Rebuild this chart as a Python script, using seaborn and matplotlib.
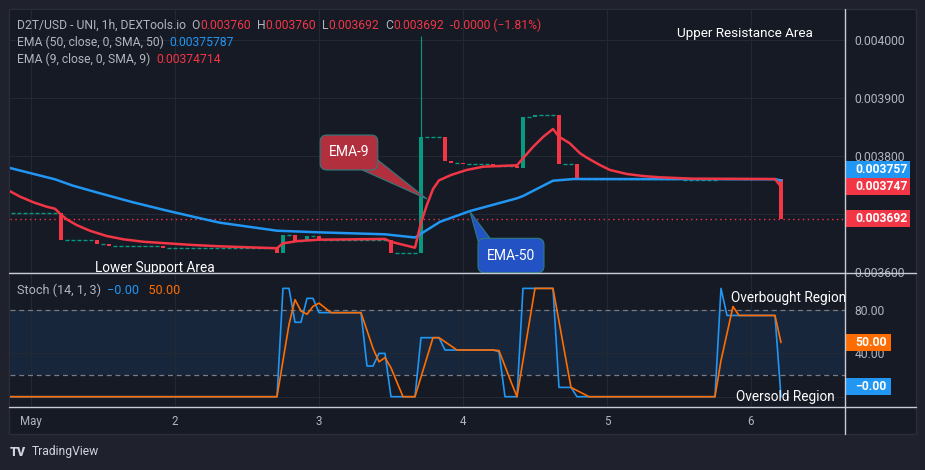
import matplotlib
matplotlib.use("Agg")
import matplotlib.pyplot as plt
import numpy as np
import pandas as pd
import seaborn as sns
from matplotlib.patches import Rectangle, FancyBboxPatch, Polygon
from matplotlib.lines import Line2D
from matplotlib.offsetbox import TextArea, HPacker, AnnotationBbox

# ---------------- data (x = hours counted from May 1, 00:00) ----------------
first_hour = -3
last_hour = 125
start_price = 0.003701
# candles where the price moved; every other hour is a flat (no trade) candle
move_hours = [5, 11, 13, 22, 41, 42, 44, 46, 48, 60, 65, 69, 70, 72, 77, 81,
              82, 84, 88, 91, 108, 115, 125]
move_close = [0.003656, 0.003648, 0.003645, 0.003642, 0.003633, 0.003664,
              0.003654, 0.003662, 0.003656, 0.003633, 0.003832, 0.003791,
              0.003788, 0.003787, 0.003783, 0.003780, 0.003867, 0.003871,
              0.003787, 0.003760, 0.003758, 0.003760, 0.003692]
wick_hour = 65
wick_high = 0.004007
last_open = 0.003760
last_close = 0.003692

ema50_h = [-4, -3.3, 4, 7, 11.5, 17, 22.7, 28.2, 31.5, 41, 48, 59, 64, 65,
           68.2, 73.2, 81, 82, 87, 90.4, 124, 125]
ema50_p = [0.003781, 0.0037788, 0.0037598, 0.0037488, 0.0037357, 0.0037202,
           0.0037057, 0.0036926, 0.003685, 0.0036712, 0.0036684, 0.003665,
           0.0036595, 0.003666, 0.0036867, 0.0037052, 0.0037271, 0.003731,
           0.0037574, 0.0037603, 0.0037600, 0.00375787]

ema9_h = [-4, -1.8, 0.4, 2.6, 4, 5, 6, 7.6, 9.8, 12.6, 15.4, 18.7, 22.6, 27,
          31.5, 41, 42, 44.5, 48, 59, 60, 64, 65, 66, 67, 68, 70, 72.6, 75.4,
          81, 82, 83.7, 85.4, 87, 88, 89.8, 91.5, 92.6, 94.8, 96.5, 99.3, 102,
          104.8, 110.3, 124, 125]
ema9_p = [0.003742, 0.0037298, 0.0037202, 0.0037126, 0.0037091, 0.003699,
          0.0036905, 0.003681, 0.0036712, 0.0036621, 0.0036564, 0.0036522,
          0.0036495, 0.0036466, 0.0036443, 0.003641, 0.0036495, 0.0036534,
          0.0036557, 0.003657, 0.0036521, 0.0036419, 0.003685, 0.003716,
          0.003743, 0.003758, 0.0037672, 0.0037759, 0.0037816, 0.003784,
          0.003796, 0.003816, 0.0038333, 0.0038466, 0.0038333, 0.0038219,
          0.0038047, 0.0037974, 0.0037845, 0.0037759, 0.003769, 0.0037655,
          0.0037633, 0.0037609, 0.0037603, 0.00374714]

stoch_k_h = [-4, 41, 42, 43, 44, 45, 46, 47, 48, 55, 56, 57, 58, 59, 60, 64,
             65, 68, 69, 77, 78, 79, 81, 82, 87, 88, 90, 91, 114, 115, 116,
             124, 125]
stoch_k = [0, 0, 100, 100, 68.7, 68.7, 90.8, 90.8, 77.6, 77.6, 28.3, 28.3,
           40, 40, 0, 0, 54.5, 54.5, 43.1, 43.1, 41.5, 0, 0, 100, 100, 8.6,
           8.6, 0, 0, 100, 75, 75, 0]
stoch_d_h = [-4, 41, 42, 43, 44, 45, 46, 47, 48, 49, 50, 55, 56, 57, 58, 59,
             60, 61, 62, 64, 65, 66, 67, 68, 69, 70, 71, 77, 78, 79, 80, 81,
             82, 83, 84, 87, 88, 89, 90, 91, 92, 93, 114, 115, 116, 117, 118,
             124, 125]
stoch_d = [0, 0, 33.3, 66.7, 89.6, 79.1, 76.1, 83.4, 86.4, 82.0, 77.6, 77.6,
           61.2, 44.7, 32.2, 36.1, 26.7, 13.3, 0, 0, 18.2, 36.3, 54.5, 54.5,
           50.7, 46.9, 43.1, 43.1, 42.6, 28.2, 13.8, 0, 33.3, 66.7, 100, 100,
           69.5, 39.1, 8.6, 5.7, 2.9, 0, 0, 33.3, 58.3, 83.3, 75, 75, 50]

day_hours = [0, 24, 48, 72, 96, 120]
day_labels = ["May", "2", "3", "4", "5", "6"]
price_ticks = [0.0036, 0.0037, 0.0038, 0.0039, 0.0040]
stoch_ticks = [0, 40, 80]
stoch_tick_labels = ["", "40.00", "80.00"]

# ---------------- colours ----------------
OUTER = "#1f222c"
PANEL = "#161a25"
GRID = "#242833"
TXT = "#b2b5be"
GREEN = "#089981"
RED = "#f23645"
BLUE = "#2196f3"
ORANGE = "#ff6d00"
SEP = "#c9ccd4"
FS = 8.7

sns.set_style("dark", {"axes.facecolor": PANEL, "figure.facecolor": OUTER,
                       "grid.color": GRID, "axes.edgecolor": PANEL})
plt.rcParams["font.family"] = ["Roboto", "DejaVu Sans"]

W, H = 925, 470
fig = plt.figure(figsize=(W / 100, H / 100), dpi=100)
fig.patch.set_facecolor(OUTER)
fig.add_artist(Rectangle((9 / W, 1 - 434 / H), 907 / W, 425 / H,
                         transform=fig.transFigure, fc=PANEL, ec="#2a2e39", lw=1, zorder=0))

ax = fig.add_axes([10 / W, 1 - 273 / H, 835 / W, 263 / H])
ax2 = fig.add_axes([10 / W, 1 - 407 / H, 835 / W, 134 / H], sharex=ax)

# ---------------- candles ----------------
close_at = dict(zip(move_hours, move_close))
rows = []
price = start_price
for h in range(first_hour, last_hour + 1):
    c = close_at.get(h, price)
    rows.append((h, price, c))
    price = c
candles = pd.DataFrame(rows, columns=["hour", "open", "close"])
up = candles["close"] > candles["open"]
down = candles["close"] < candles["open"]
flat = ~(up | down)
bw = 0.72
for mask, col in ((up, GREEN), (down, RED)):
    d = candles[mask]
    ax.bar(d["hour"], d["close"] - d["open"], bottom=d["open"], width=bw,
           color=col, lw=0, zorder=3)
d = candles[flat]
ax.hlines(d["open"], d["hour"] - bw / 2, d["hour"] + bw / 2, color=GREEN, lw=1, zorder=3)
wick_top = candles.loc[candles["hour"] == wick_hour, "close"].iloc[0]
ax.vlines(wick_hour, wick_top, wick_high, color=GREEN, lw=0.8, zorder=3)

ax.axhline(last_close, color=RED, lw=1, ls=(0, (1, 2.5)), zorder=2)

# ---------------- EMA lines ----------------
sns.lineplot(x=ema50_h, y=ema50_p, ax=ax, color=BLUE, linewidth=1.8,
             estimator=None, sort=False, zorder=4)
sns.lineplot(x=ema9_h, y=ema9_p, ax=ax, color=RED, linewidth=1.8,
             estimator=None, sort=False, zorder=4)

ax.set_xlim(-3.5, 135.67)
ax.set_ylim(0.0035983, 0.0040517)
ax.set_xticks(day_hours)
ax.set_yticks(price_ticks)
# the 0.003700 label sits under the price badges, as on the source chart
ax.set_yticklabels(["" if abs(p - 0.0037) < 1e-9 else f"{p:.6f}" for p in price_ticks])
ax.yaxis.tick_right()
ax.tick_params(axis="x", labelbottom=False, length=0)
ax.tick_params(axis="y", length=0, colors=TXT, labelsize=FS, pad=7)
ax.grid(True, color=GRID, lw=0.8)
ax.set_axisbelow(True)

# ---------------- stochastic ----------------
ax2.axhspan(20, 80, color="#17263a", lw=0, zorder=0.5)
for lvl in (80, 20):
    ax2.axhline(lvl, color="#787b86", lw=0.9, ls=(0, (4, 3)), zorder=1)
sns.lineplot(x=stoch_k_h, y=stoch_k, ax=ax2, color=BLUE, linewidth=1.2,
             estimator=None, sort=False, zorder=4)
sns.lineplot(x=stoch_d_h, y=stoch_d, ax=ax2, color=ORANGE, linewidth=1.2,
             estimator=None, sort=False, zorder=4)
ax2.set_ylim(-9.5, 114.2)
ax2.set_xticks(day_hours)
ax2.set_xticklabels(day_labels)
ax2.set_yticks(stoch_ticks)
ax2.set_yticklabels(stoch_tick_labels)
ax2.yaxis.tick_right()
ax2.tick_params(axis="y", length=0, colors=TXT, labelsize=FS, pad=7)
ax2.tick_params(axis="x", length=0, colors=TXT, labelsize=8.3, pad=6)
ax2.grid(True, color=GRID, lw=0.8)
ax2.set_axisbelow(True)
for a in (ax, ax2):
    for s in a.spines.values():
        s.set_visible(False)
    a.set_xlabel("")
    a.set_ylabel("")

# ---------------- separators ----------------
for yy in (273, 407):
    fig.add_artist(Line2D([9 / W, 916 / W], [1 - yy / H] * 2, transform=fig.transFigure,
                          color=SEP, lw=1))
fig.add_artist(Line2D([845 / W] * 2, [1 - 9 / H, 1 - 434 / H], transform=fig.transFigure,
                      color=SEP, lw=1))


# ---------------- price badges ----------------
def badge(a, yc, text, color, width, height):
    tr = a.get_yaxis_transform()
    a.add_patch(Rectangle((1.0, yc - height / 2), width, height, transform=tr,
                          fc=color, ec="none", clip_on=False, zorder=6))
    a.text(1.012, yc, text, transform=tr, color="white", fontsize=FS,
           fontweight="bold", va="center", ha="left", clip_on=False, zorder=7)


bh = 2.9e-5
badge(ax, ema9_p[-1], f"{ema9_p[-1]:.6f}", RED, 0.0778, bh)
badge(ax, ema9_p[-1] + bh, f"{int(ema50_p[-1] * 1e6) / 1e6:.6f}", BLUE, 0.0778, bh)
badge(ax, last_close, f"{last_close:.6f}", RED, 0.0778, bh)
badge(ax2, stoch_d[-1], f"{stoch_d[-1]:.2f}", ORANGE, 0.0551, 15.5)
badge(ax2, 9.6, "\u22120.00", BLUE, 0.0551, 15.5)


# ---------------- legends (coloured text rows) ----------------
def text_row(parts, x, y, size=FS):
    boxes = [TextArea(t, textprops=dict(color=c, size=size)) for t, c in parts]
    pack = HPacker(children=boxes, align="baseline", pad=0, sep=0)
    fig.add_artist(AnnotationBbox(pack, (x, H - y), xycoords="figure pixels",
                                  box_alignment=(0, 0.5), frameon=False, pad=0))


pct = (last_close - last_open) / last_open * 100
text_row([("D2T/USD - UNI, 1h, DEXTools.io  O", TXT), (f"{last_open:.6f}", RED),
          ("  H", TXT), (f"{last_open:.6f}", RED), ("  L", TXT), (f"{last_close:.6f}", RED),
          ("  C", TXT), (f"{last_close:.6f}", RED),
          (f"  -0.0000 (\u2212{abs(pct):.2f}%)", RED)], 17, 25)
text_row([("EMA (50, close, 0, SMA, 50)  ", TXT), (f"{ema50_p[-1]:.8f}", BLUE)], 17, 42)
text_row([("EMA (9, close, 0, SMA, 9)  ", TXT), (f"{ema9_p[-1]:.8f}", RED)], 17, 59)
text_row([("Stoch (14, 1, 3)  ", TXT), ("\u22120.00", BLUE), ("   50.00", ORANGE)], 17, 290,
         size=9.1)

# ---------------- drawings ----------------
ax.text(119, 0.004012, "Upper Resistance Area", color="white", fontsize=9.7,
        ha="center", va="center", zorder=8)
ax.text(20.7, 0.0036069, "Lower Support Area", color="white", fontsize=9.8,
        ha="center", va="center", zorder=8)
ax2.text(126.2, 91, "Overbought Region", color="white", fontsize=9.8,
         ha="center", va="center", zorder=8, clip_on=False)
ax2.text(125.7, -0.3, "Oversold Region", color="white", fontsize=9.8,
         ha="center", va="center", zorder=8, clip_on=False)

aspect = 6 / 580000
callouts = [
    # label, box (x0, y0, w, h), pointer polygon, fill
    ("EMA-9", (48.2, 0.0037759, 9.6, 0.0000603),
     [(57.8, 0.0037931), (66.0, 0.0037259), (55.2, 0.0037759)], "#b22f3d"),
    ("EMA-50", (74.5, 0.0035988, 11.0, 0.0000593),
     [(74.7, 0.0036466), (73.17, 0.0037040), (76.5, 0.0036581)], "#2352c4"),
]
for label, (x0, y0, w, h), tri, fc in callouts:
    ax.add_patch(Polygon(tri, closed=True, fc=fc, ec="#2d7b80", lw=0.8, zorder=7))
    ax.add_patch(FancyBboxPatch((x0, y0), w, h, boxstyle="round,pad=0,rounding_size=1.1",
                                mutation_aspect=aspect, fc=fc, ec="#2d7b80", lw=0.8, zorder=7))
    ax.text(x0 + w / 2, y0 + h / 2, label, color="white", fontsize=10,
            ha="center", va="center", zorder=8)

# ---------------- footer ----------------
fig.text(10 / W, 1 - 452 / H, "TV", color="#d1d4dc", fontsize=9, fontweight="heavy",
         va="center", ha="left")
fig.text(32 / W, 1 - 452 / H, "TradingView", color="#d1d4dc", fontsize=8.7,
         va="center", ha="left")

fig.savefig("out.png", dpi=100, facecolor=OUTER)
